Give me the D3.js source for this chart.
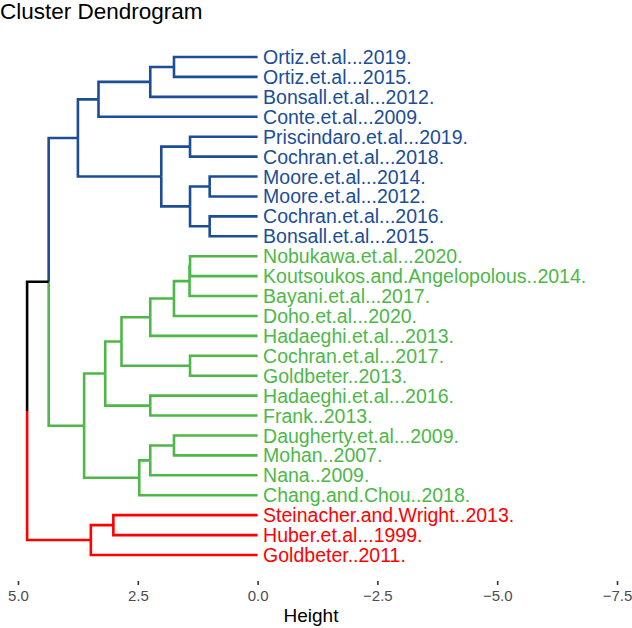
<!DOCTYPE html>
<meta charset="utf-8">
<style>
  body {
    margin: 0;
    background: #fff;
  }

  text {
    font-family: "Liberation Sans", Arial, sans-serif;
  }

  .link {
    fill: none;
    stroke-width: 2.6px;
  }
</style>

<body>
  <div id="svg_frame"></div>
</body>
<script src="https://cdnjs.cloudflare.com/ajax/libs/d3/7.8.5/d3.js"></script>

<script>
  // leaves, top to bottom
  var labels = ["Ortiz.et.al...2019.", "Ortiz.et.al...2015.", "Bonsall.et.al...2012.", "Conte.et.al...2009.",
    "Priscindaro.et.al...2019.", "Cochran.et.al...2018.", "Moore.et.al...2014.", "Moore.et.al...2012.",
    "Cochran.et.al...2016.", "Bonsall.et.al...2015.", "Nobukawa.et.al...2020.",
    "Koutsoukos.and.Angelopolous..2014.", "Bayani.et.al...2017.", "Doho.et.al...2020.",
    "Hadaeghi.et.al...2013.", "Cochran.et.al...2017.", "Goldbeter..2013.", "Hadaeghi.et.al...2016.",
    "Frank..2013.", "Daugherty.et.al...2009.", "Mohan..2007.", "Nana..2009.", "Chang.and.Chou..2018.",
    "Steinacher.and.Wright..2013.", "Huber.et.al...1999.", "Goldbeter..2011."];

  // cluster of each leaf (k = 3)
  var clusters = [1, 1, 1, 1, 1, 1, 1, 1, 1, 1, 2, 2, 2, 2, 2, 2, 2, 2, 2, 2, 2, 2, 2, 3, 3, 3];

  // hclust style merge table: negative = leaf (1-based), positive = earlier merge row
  var merge = [[-7, -8], [-9, -10], [-11, -12], [-5, -6], [1, 2], [3, -13], [-16, -17], [-1, -2],
  [6, -14], [-20, -21], [4, 5], [8, -3], [9, -15], [-18, -19], [10, -22], [15, -23], [13, 7],
  [-24, -25], [17, 14], [12, -4], [18, -26], [19, 16], [20, 11], [23, 22], [24, 21]];

  var heights = [1.0, 1.0, 1.41, 1.41, 1.41, 1.42, 1.41, 1.745, 1.745, 1.745, 2.01, 2.24, 2.24, 2.24,
    2.24, 2.47, 2.84, 3.01, 3.18, 3.32, 3.48, 3.62, 3.75, 4.36, 4.81];

  var ticks = [5, 2.5, 0, -2.5, -5, -7.5];

  var clusterColor = { 1: "#1B4E97", 2: "#4DB848", 3: "#FF0000" };

  var width = 632,
    height = 628;

  var x = d3.scaleLinear()
    .domain([5, -7.5])
    .range([18, 617]);

  var y = d3.scalePoint()
    .domain(d3.range(labels.length))
    .range([57, 555]);

  // build nodes
  var leafNodes = labels.map(function (l, i) {
    return { name: l, h: 0, y: y(i), cl: clusters[i], children: null };
  });
  var mergeNodes = [];
  merge.forEach(function (m, i) {
    var kids = m.map(function (k) { return k < 0 ? leafNodes[-k - 1] : mergeNodes[k - 1]; });
    mergeNodes.push({
      h: heights[i],
      y: (kids[0].y + kids[1].y) / 2,
      cl: kids[0].cl === kids[1].cl ? kids[0].cl : 0,
      children: kids
    });
  });

  function colorOf(n) { return n.cl ? clusterColor[n.cl] : "#000"; }

  var links = [];
  mergeNodes.forEach(function (n) {
    n.children.forEach(function (c) { links.push({ parent: n, child: c }); });
  });

  var svg = d3.select("#svg_frame").append("svg")
    .attr("width", width)
    .attr("height", height);

  svg.append("text")
    .attr("x", 0)
    .attr("y", 19)
    .style("font-size", "22.5px")
    .text("Cluster Dendrogram");

  svg.append("g")
    .selectAll(".link")
    .data(links)
    .enter().append("path")
    .attr("class", "link")
    .attr("d", function (d) {
      return "M" + x(d.parent.h) + "," + d.parent.y + "V" + d.child.y + "H" + x(d.child.h);
    })
    .style("stroke", function (d) { return colorOf(d.child); });

  svg.append("g")
    .selectAll("text")
    .data(leafNodes)
    .enter().append("text")
    .attr("x", x(0) + 5.5)
    .attr("y", function (d) { return d.y; })
    .attr("dy", "0.36em")
    .style("font-size", "19.5px")
    .style("fill", colorOf)
    .text(function (d) { return d.name; });

  // x axis, no domain line
  var axis = svg.append("g")
    .attr("transform", "translate(0,581)")
    .call(d3.axisBottom(x)
      .tickValues(ticks)
      .tickSize(4)
      .tickPadding(5)
      .tickFormat(function (d) { return d3.format(".1f")(d).replace("-", "\u2212"); }));
  axis.select(".domain").remove();
  axis.selectAll(".tick line").attr("stroke", "#333").attr("stroke-width", 1.6);
  axis.selectAll(".tick text")
    .attr("fill", "#4D4D4D")
    .style("font-size", "15px")
    .style("font-family", "'Liberation Sans', Arial, sans-serif");

  svg.append("text")
    .attr("x", 311)
    .attr("y", 622)
    .attr("text-anchor", "middle")
    .style("font-size", "19px")
    .text("Height");
</script>
